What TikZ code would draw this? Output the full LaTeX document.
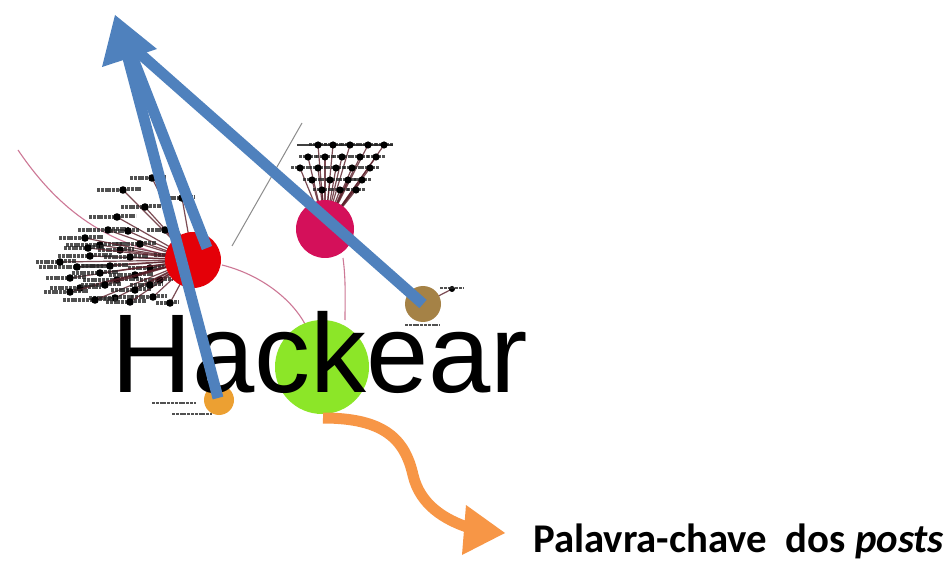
\documentclass[tikz,border=0pt]{standalone}
\usepackage{fontspec}
\setmainfont{Liberation Sans}
\newfontfamily\carlito{Carlito}
\definecolor{arrowblue}{RGB}{79,129,189}
\definecolor{arroworange}{RGB}{247,150,70}
\definecolor{hubred}{RGB}{228,0,8}
\definecolor{hubcrimson}{RGB}{212,16,90}
\definecolor{hubgreen}{RGB}{140,230,40}
\definecolor{hubbrown}{RGB}{165,130,70}
\definecolor{huborange}{RGB}{236,160,50}
\definecolor{edgepink}{RGB}{205,120,150}
\definecolor{edgedark}{RGB}{90,30,40}
\tikzset{
  hub/.style={circle, inner sep=0pt, draw=none},
  netedge/.style={draw=edgepink, line width=1.1pt},
  greyedge/.style={draw=black!45, line width=1pt},
  clusteredge/.style={draw=edgedark, line width=1.2pt, opacity=0.8},
  dot/.style={fill=black},
  smudge/.style={draw=black!85, line width=4pt, dash pattern=on 3pt off 0.8pt, opacity=0.8},
  blueshaft/.style={draw=arrowblue, line width=11pt},
  orangeshaft/.style={draw=arroworange, line width=11pt},
}
\begin{document}
\begin{tikzpicture}[x=1pt,y=-1pt]
\useasboundingbox (0,0) rectangle (948,561);
\fill[white] (0,0) rectangle (948,561);

% hub positions
\coordinate (R) at (193,260);
\coordinate (C) at (325,229);
\coordinate (G) at (322,367);
\coordinate (B) at (423,304);
\coordinate (O) at (219,400);
\coordinate (tip) at (115,15);

% network edges
\draw[netedge] (18,150) .. controls (60,212) and (110,248) .. (R);
\draw[greyedge] (302,123) -- (232,246);
\draw[netedge] (222,265) .. controls (262,275) and (292,300) .. (305,324);
\draw[netedge] (343,258) .. controls (346,280) and (345,300) .. (345,320);

% left cluster
\foreach \x/\y/\l in {152/178/18,123/190/22,182/198/16,145/207/20,117/217/24,
  108/230/26,128/231/14,100/245/30,140/244/20,90/256/28,130/257/22,
  77/267/34,110/266/24,150/268/18,70/278/20,117/280/30,160/280/16,
  80/288/26,115/298/22,153/297/18,170/303/10,95/300/28,135/290/20,
  60/262/20,165/230/14,170/255/12,85/238/22,100/273/24,135/275/22,
  70/292/22,130/302/20,150/285/16,120/250/18,105/285/20,88/248/20}{
  \draw[clusteredge] (\x,\y) -- (R);
  \draw[smudge] (\x-\l-4,\y) -- (\x-3,\y);
  \draw[smudge] (\x+4,\y-1) -- (\x+\l*0.8,\y-1);
  \fill[dot] (\x,\y) circle (3.8);
}
% top cluster
\draw[black!75, line width=1.4pt] (297,145) -- (393,145);
\foreach \x/\y in {318/145,333/145,350/145,368/145,384/145,
  308/157,325/157,342/157,360/157,376/157,
  300/168,318/168,336/168,352/168,370/168,
  312/180,330/180,348/180,362/180,322/190,340/190,356/190}{
  \draw[clusteredge] (\x,\y) -- (C);
  \draw[smudge, line width=3pt] (\x-9,\y) -- (\x+9,\y);
  \fill[dot] (\x,\y) circle (3.6);
}
% small labelled leaves
\draw[clusteredge] (B) -- (452,289);
\fill[dot] (452,289) circle (3);
\draw[smudge, line width=2.4pt] (440,288) -- (464,288);
\draw[smudge, line width=2pt] (405,325) -- (440,325);
\draw[smudge, line width=2.4pt] (152,403) -- (196,403);
\draw[smudge, line width=2.4pt] (172,414) -- (212,414);

% hubs
\fill[hubred] (R) circle (28);
\fill[hubcrimson] (C) circle (29);
\fill[hubgreen] (G) circle (47);
\fill[hubbrown] (B) circle (18);
\fill[huborange] (O) circle (15);

% main word
\node[anchor=base west, inner sep=0pt, font=\fontsize{112}{112}\selectfont] (word) at (111,392) {Hackear};

% blue arrow
\draw[blueshaft] (218,398) -- (128,58);
\draw[blueshaft] (207,248) -- (132,56);
\draw[blueshaft] (B) -- (138,52);
\fill[arrowblue] (tip) -- (102,67) -- (157,49) -- cycle;

% orange arrow
\draw[orangeshaft] (323,418) .. controls (385,418) and (405,440) .. (413,475)
  .. controls (420,505) and (445,520) .. (470,528);
\fill[arroworange] (505,533) -- (466,505) -- (462,555) -- cycle;

% caption
\node[anchor=base west, inner sep=0pt, font=\carlito\bfseries\fontsize{40.8}{41}\selectfont] (caption) at (533,552) {Palavra-chave\ \ dos \textit{posts}};
\end{tikzpicture}
\end{document}
